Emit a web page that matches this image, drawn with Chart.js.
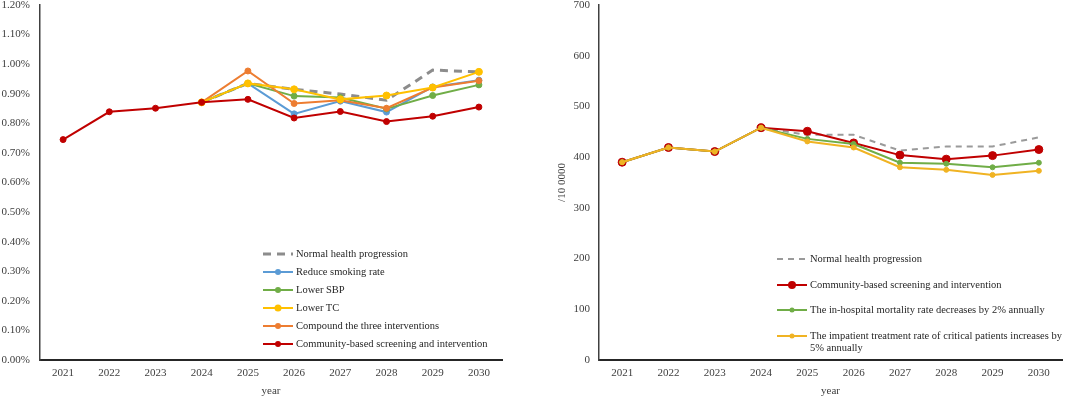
<!DOCTYPE html>
<html>
<head>
<meta charset="utf-8">
<script src="https://cdn.jsdelivr.net/npm/chart.js@4"></script>
<style>
  html, body { margin: 0; padding: 0; background: #fff; }
  body { width: 1080px; height: 398px; position: relative; overflow: hidden;
         font-family: "Liberation Serif", "Times New Roman", serif; color: #262626; }
  .panel { position: absolute; top: 0; height: 398px; width: 540px; }
  .legend { position: absolute; font-size: 10.5px; line-height: 12.6px; }
  .legend .row { position: absolute; left: 0; display: flex; align-items: flex-start; white-space: nowrap; }
  .legend svg { flex: none; margin-right: 3px; margin-top: 1px; }
  .legend .txt { white-space: normal; }
</style>
</head>
<body>
<div class="panel" style="left:0"><canvas id="leftChart" width="540" height="398"></canvas></div>
<div class="panel" style="left:540px"><canvas id="rightChart" width="540" height="398"></canvas></div>
<div class="legend" id="leftLegend" style="left:263px; top:248px; width:260px"></div>
<div class="legend" id="rightLegend" style="left:777px; top:253px; width:300px"></div>
<script>
// categories
const years = ["2021", "2022", "2023", "2024", "2025", "2026", "2027", "2028", "2029", "2030"];

// left panel, values in %
const normalLeft    = [null, null, null, 0.871, 0.935, 0.915, 0.899, 0.878, 0.980, 0.974];
const smokingLeft   = [null, null, null, 0.871, 0.935, 0.832, 0.875, 0.838, 0.923, 0.946];
const sbpLeft       = [null, null, null, 0.871, 0.935, 0.892, 0.887, 0.849, 0.894, 0.930];
const tcLeft        = [null, null, null, 0.871, 0.935, 0.915, 0.881, 0.894, 0.921, 0.974];
const compoundLeft  = [null, null, null, 0.871, 0.977, 0.867, 0.878, 0.851, 0.921, 0.944];
const communityLeft = [0.745, 0.839, 0.851, 0.871, 0.881, 0.818, 0.840, 0.806, 0.824, 0.855];
const leftTicks = [0, 0.1, 0.2, 0.3, 0.4, 0.5, 0.6, 0.7, 0.8, 0.9, 1.0, 1.1, 1.2];

// right panel, per 10 0000
const normalRight    = [null, null, null, 458, 444, 444, 413, 421, 421, 439];
const communityRight = [390, 419, 411, 458, 451, 428, 404, 396, 403, 415];
const mortalityRight = [390, 419, 411, 458, 436, 426, 389, 387, 380, 389];
const treatmentRight = [390, 419, 411, 458, 431, 419, 380, 375, 365, 373];
const rightTicks = [0, 100, 200, 300, 400, 500, 600, 700];

const serif = "'Liberation Serif', 'Times New Roman', serif";
const tickColor = "#404040";

const leftSeries = [
  { label: "Normal health progression", data: normalLeft, color: "#8c8c8c", dash: [8, 6], width: 3, r: 0, order: 6 },
  { label: "Reduce smoking rate", data: smokingLeft, color: "#5b9bd5", width: 2, r: 3, order: 5 },
  { label: "Lower SBP", data: sbpLeft, color: "#70ad47", width: 2, r: 3, order: 4 },
  { label: "Lower TC", data: tcLeft, color: "#ffc000", width: 2, r: 3.5, order: 2 },
  { label: "Compound the three interventions", data: compoundLeft, color: "#ed7d31", width: 2, r: 3, order: 3 },
  { label: "Community-based screening and intervention", data: communityLeft, color: "#c00000", width: 2, r: 3, order: 1 }
];

const rightSeries = [
  { label: "Normal health progression", data: normalRight, color: "#9a9a9a", dash: [6, 5], width: 2, r: 0, order: 4 },
  { label: "Community-based screening and intervention", data: communityRight, color: "#c00000", width: 2, r: 4, order: 3 },
  { label: "The in-hospital mortality rate decreases by 2% annually", data: mortalityRight, color: "#70ad47", width: 2, r: 2.5, order: 2 },
  { label: "The impatient treatment rate of critical patients increases by 5% annually", data: treatmentRight, color: "#f0b323", width: 2, r: 2.5, order: 1 }
];

function toDatasets(series) {
  return series.map(s => ({
    label: s.label,
    data: s.data,
    borderColor: s.color,
    backgroundColor: s.color,
    borderWidth: s.width,
    borderDash: s.dash || [],
    pointRadius: s.r,
    pointBorderWidth: 1,
    pointHoverRadius: s.r,
    tension: 0,
    spanGaps: false,
    order: s.order
  }));
}

function makeChart(id, series, opts) {
  return new Chart(document.getElementById(id), {
    type: "line",
    data: { labels: years, datasets: toDatasets(series) },
    options: {
      responsive: false,
      animation: false,
      layout: { padding: opts.padding },
      plugins: { legend: { display: false }, tooltip: { enabled: false } },
      scales: {
        x: {
          offset: true,
          grid: { display: false, drawTicks: false },
          border: { display: true, color: "#262626", width: 2 },
          ticks: { color: tickColor, padding: 7, font: { family: serif, size: 11 } },
          title: { display: true, text: "year", color: tickColor, padding: 0, font: { family: serif, size: 11 } },
          afterFit: s => { s.height = 38; }
        },
        y: {
          min: opts.min, max: opts.max,
          grid: { display: false, drawTicks: false },
          border: { display: true, color: "#404040", width: 1.5 },
          afterBuildTicks: s => { s.ticks = opts.ticks.map(v => ({ value: v })); },
          ticks: { color: tickColor, padding: opts.tickPad, font: { family: serif, size: 11 }, callback: opts.fmt },
          title: opts.title,
          afterFit: s => { s.width = opts.yWidth; s.paddingTop = 0; s.paddingBottom = 0; }
        }
      }
    }
  });
}

makeChart("leftChart", leftSeries, {
  min: 0, max: 1.2, ticks: leftTicks, tickPad: 10, yWidth: 40,
  fmt: v => v.toFixed(2) + "%",
  title: { display: false },
  padding: { left: 0, right: 38, top: 5, bottom: 0 }
});

makeChart("rightChart", rightSeries, {
  min: 0, max: 700, ticks: rightTicks, tickPad: 9, yWidth: 47,
  fmt: v => String(v),
  title: { display: true, text: "/10 0000", color: tickColor, padding: 4, font: { family: serif, size: 11 } },
  padding: { left: 12, right: 18, top: 4, bottom: 0 }
});

// html legends drawn from the same series tables
function swatch(s) {
  const dash = s.dash ? `stroke-dasharray="${s.dash.join(",")}"` : "";
  const dot = s.r ? `<circle cx="15" cy="5" r="${Math.max(s.r, 2.5)}" fill="${s.color}"/>` : "";
  return `<svg width="30" height="10"><line x1="0" y1="5" x2="30" y2="5" stroke="${s.color}" stroke-width="${s.width}" ${dash}/>${dot}</svg>`;
}

function buildLegend(id, series, step, textWidth) {
  const box = document.getElementById(id);
  series.forEach((s, i) => {
    const row = document.createElement("div");
    row.className = "row";
    row.style.top = (i * step) + "px";
    row.innerHTML = swatch(s) + `<span class="txt" style="width:${textWidth}px">${s.label}</span>`;
    box.appendChild(row);
  });
}

buildLegend("leftLegend", leftSeries, 18, 230);
buildLegend("rightLegend", rightSeries, 25.6, 252);
</script>
</body>
</html>
